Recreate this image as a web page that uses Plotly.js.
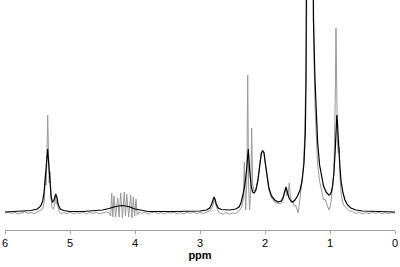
<!DOCTYPE html>
<html><head><meta charset="utf-8">
<script src="https://cdn.plot.ly/plotly-3.0.1.min.js"></script>
<style>html,body{margin:0;padding:0;background:#fff;}#chart{width:400px;height:267px;}</style>
</head><body><div id="chart"></div>
<script>
// x-axis ticks
const tickValues = [6, 5, 4, 3, 2, 1, 0];
const tickLabels = ["6", "5", "4", "3", "2", "1", "0"];

// Smooth (black) spectrum: ppm and intensity
const blackPpm = [6.00,5.80,5.60,5.50,5.45,5.42,5.40,5.38,5.36,5.345,5.33,5.31,5.29,5.27,5.25,5.22,5.20,5.18,5.15,5.10,5.00,4.80,4.60,4.50,4.40,4.30,4.20,4.10,4.00,3.90,3.80,3.40,3.00,2.90,2.85,2.82,2.80,2.785,2.77,2.75,2.72,2.67,2.55,2.45,2.40,2.37,2.34,2.31,2.285,2.257,2.235,2.21,2.19,2.165,2.14,2.11,2.08,2.055,2.035,2.015,2.00,1.97,1.94,1.90,1.85,1.80,1.75,1.72,1.69,1.677,1.66,1.63,1.60,1.574,1.54,1.50,1.46,1.43,1.40,1.38,1.369,1.358,1.347,1.337,1.327,1.317,1.307,1.297,1.287,1.277,1.267,1.255,1.231,1.21,1.19,1.16,1.13,1.10,1.06,1.02,1.00,0.98,0.96,0.94,0.92,0.905,0.895,0.885,0.87,0.85,0.83,0.80,0.77,0.73,0.68,0.60,0.50,0.30,0.00];
const blackInt = [1,1.5,2.5,4,7,12,20,35,55,64,52,30,16,11,12,19,15,8,4,2.5,1.5,1.5,2,3,4.5,6.5,7.5,6.5,4,2.5,1.5,1.5,2,3,5,9,13,16,14,9,5,3.5,3,4,6,10,18,28,42,64,42,26,21,20,23,32,48,60,62,60,52,36,25,17,13,11,12,16,24,26,22,15,12,11,13,17,23,32,50,80,133,193,270,410,640,970,1180,970,640,410,270,193,133,95,70,48,35,27,21,18,18.5,21,27,40,62,85,98,90,70,48,32,20,13,8,5,3,2,1.5,1];

// High-resolution (gray) spectrum: ppm and intensity
const grayPpm = [6.00,5.95,5.90,5.85,5.80,5.75,5.70,5.65,5.60,5.55,5.50,5.46,5.42,5.395,5.378,5.368,5.356,5.343,5.333,5.32,5.305,5.292,5.275,5.255,5.235,5.222,5.21,5.195,5.18,5.16,5.13,5.10,5.05,5.00,4.95,4.90,4.85,4.80,4.75,4.70,4.65,4.60,4.55,4.50,4.45,4.40,4.375,4.358,4.342,4.323,4.30,4.266,4.245,4.220,4.193,4.165,4.147,4.128,4.097,4.066,4.046,4.026,4.005,3.985,3.965,3.94,3.90,3.85,3.80,3.75,3.70,3.65,3.60,3.55,3.50,3.45,3.40,3.35,3.30,3.25,3.20,3.15,3.10,3.05,3.00,2.95,2.90,2.85,2.81,2.79,2.775,2.76,2.73,2.70,2.65,2.60,2.55,2.50,2.45,2.40,2.36,2.335,2.318,2.305,2.297,2.28,2.266,2.252,2.237,2.218,2.205,2.19,2.17,2.14,2.11,2.08,2.055,2.035,2.015,2.00,1.97,1.94,1.90,1.85,1.80,1.75,1.72,1.695,1.68,1.665,1.645,1.626,1.61,1.59,1.57,1.55,1.53,1.51,1.49,1.47,1.44,1.41,1.39,1.375,1.365,1.355,1.345,1.335,1.325,1.315,1.307,1.297,1.287,1.277,1.267,1.257,1.245,1.23,1.21,1.19,1.16,1.13,1.10,1.08,1.06,1.04,1.015,0.99,0.97,0.955,0.94,0.93,0.918,0.908,0.898,0.885,0.872,0.857,0.845,0.83,0.81,0.79,0.75,0.70,0.65,0.60,0.55,0.50,0.45,0.40,0.35,0.30,0.25,0.20,0.15,0.10,0.05,0.00];
const grayInt = [0,1,-0.5,0.8,-1,0.5,1.2,-0.3,0.6,-0.8,1,2,4,12,40,28,50,98,46,30,41,14,5,4,9,18,9,13,4,1,-1,0.5,-0.6,1,-1,0.4,-0.5,1,-1.2,0.5,-0.4,0.8,-1,0.3,1,0.5,-3,20,-4,17,-4,15,-4,20,-5,21,-3,19,-4,18,-5,16,-3,14,-2,1,-0.5,0.8,-1,0.3,1,-0.6,0.5,-1,0.7,-0.3,1,-0.8,0.4,-1,0.6,-0.4,1,-0.7,0.5,-0.5,1,2,6,13,15,9,3,0,-1,0.5,-1.2,0,-0.5,2,6,14,51,15,3,30,138,28,3,25,85,30,22,24,33,49,61,63,61,52,35,23,15,11,9,10,14,22,25,17,20,30,16,10,11,7,8,4,0,10,25,45,75,115,160,230,330,520,800,1100,1250,1100,800,520,330,215,150,105,70,48,32,22,13,14,11,7,3,8,18,30,40,70,120,185,110,70,60,66,35,20,12,8,5,2,1.5,-0.5,0.8,-1,0.5,-0.8,0.6,-0.4,0.8,-1,0.3,-0.6,0.5,-0.3];

const traces = [
  {x: grayPpm, y: grayInt, type: 'scatter', mode: 'lines',
   line: {color: '#999999', width: 1}, hoverinfo: 'skip'},
  {x: blackPpm, y: blackInt, type: 'scatter', mode: 'lines',
   line: {color: '#000000', width: 1.2}, hoverinfo: 'skip'}
];

const layout = {
  width: 400, height: 267,
  margin: {l: 5, r: 5, t: 0, b: 37},
  paper_bgcolor: '#ffffff', plot_bgcolor: '#ffffff',
  showlegend: false,
  xaxis: {
    range: [6, 0], autorange: false,
    tickmode: 'array', tickvals: tickValues, ticktext: tickLabels,
    showline: true, linecolor: '#a0a0a0', linewidth: 1,
    ticks: 'outside', ticklen: 3, tickcolor: '#a0a0a0', tickwidth: 1,
    showgrid: false, zeroline: false,
    tickfont: {family: 'Liberation Sans, Arial, sans-serif', size: 11, color: '#000'},
    title: {text: '<b>ppm</b>', standoff: 3,
            font: {family: 'Liberation Sans, Arial, sans-serif', size: 11, color: '#000'}}
  },
  yaxis: {range: [-17, 213], autorange: false, visible: false, showgrid: false, zeroline: false}
};

Plotly.newPlot('chart', traces, layout, {staticPlot: true, displayModeBar: false});
</script>
</body></html>
